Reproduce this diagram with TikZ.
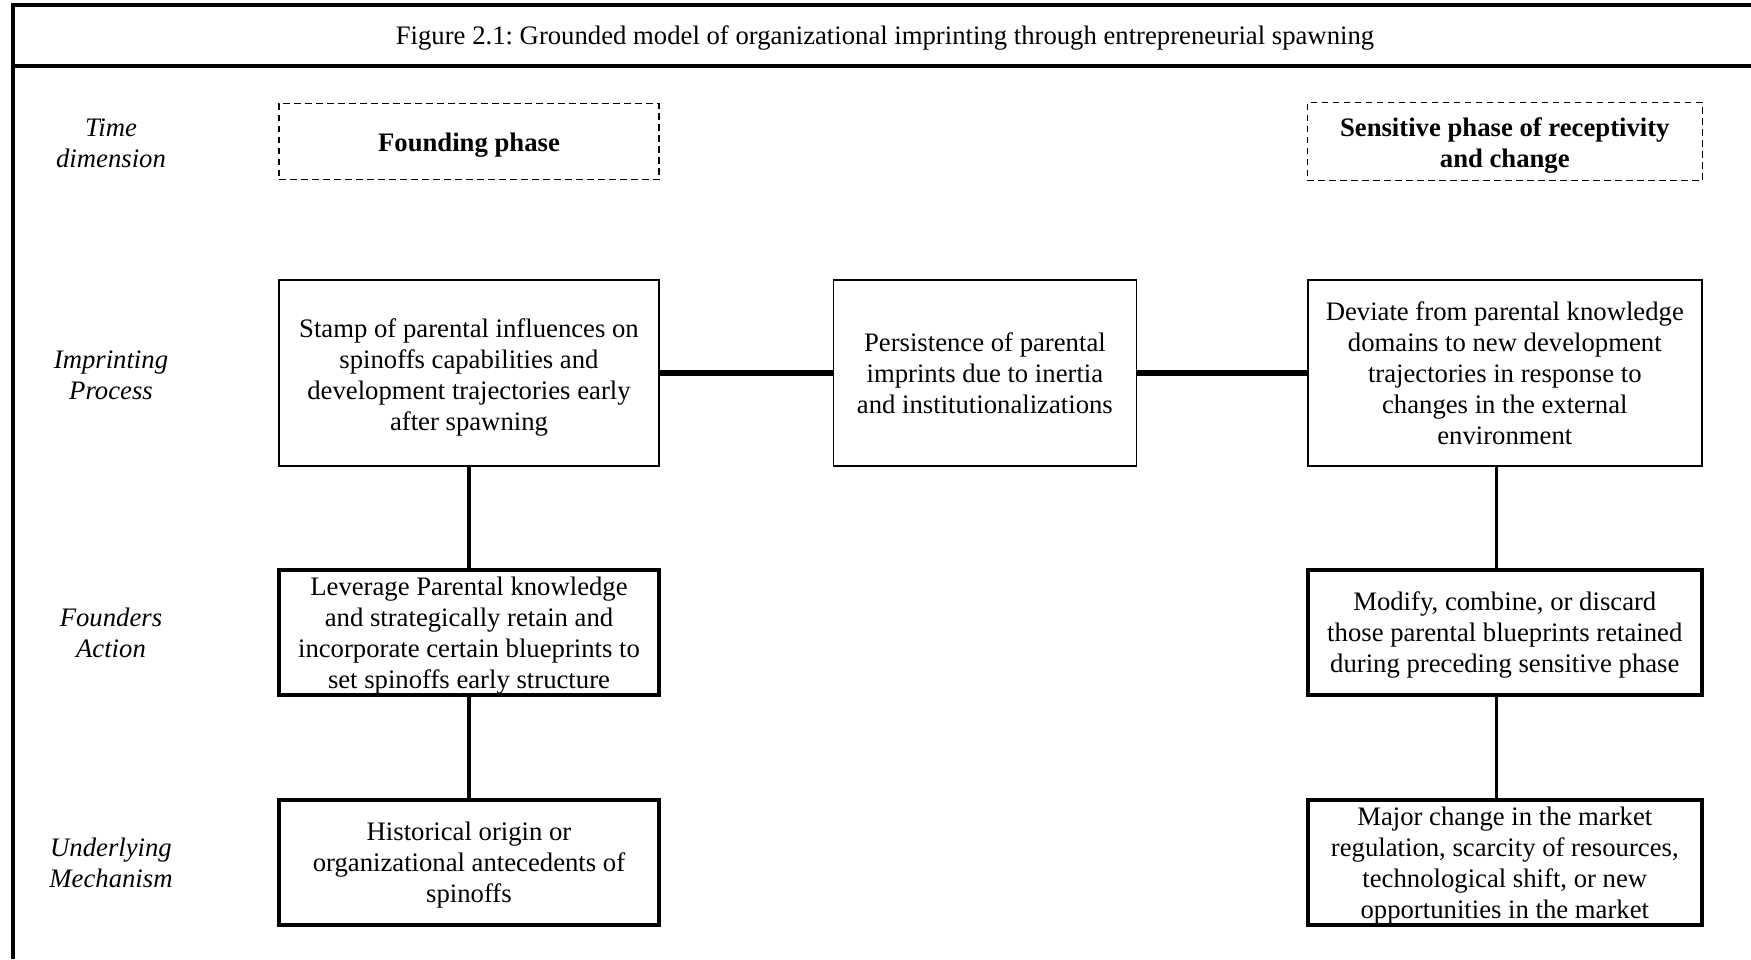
\documentclass[tikz,border=0pt]{standalone}
\usepackage{fontspec}
\setmainfont{Liberation Serif}
\usepackage{tikz}
\usetikzlibrary{positioning}
\frenchspacing

\begin{document}
\begin{tikzpicture}[
    x=0.5pt, y=-0.5pt,
    every node/.style={font=\fontsize{13.35}{15.5}\selectfont, align=center, inner sep=0pt},
    phasebox/.style={draw, dashed, dash pattern=on 3.3pt off 2.2pt, line width=0.75pt, minimum height=38pt, font=\fontsize{13.35}{15.5}\selectfont\bfseries},
    procbox/.style={draw, line width=0.7pt, minimum height=93pt},
    actbox/.style={draw, line width=2pt, minimum height=62.6pt},
    rowlabel/.style={font=\fontsize{13.35}{15.5}\selectfont\itshape},
    link/.style={line width=1.8pt},
    hlink/.style={line width=3.2pt}
]
\useasboundingbox (0,0) rectangle (1751,959);
\draw[line width=1.7pt] (13,959) -- (13,5) -- (1751,5);
\draw[line width=1.7pt] (13,66) -- (1751,66);

\node (title) at (885,38) {Figure 2.1: Grounded model of organizational imprinting through entrepreneurial spawning};

\node[rowlabel] (lbltime) at (111,143) {Time\\dimension};
\node[rowlabel] (lblproc) at (111,375) {Imprinting\\Process};
\node[rowlabel] (lblact) at (111,633) {Founders\\Action};
\node[rowlabel] (lblmech) at (111,863) {Underlying\\Mechanism};

\node[procbox, minimum width=190pt] (stamp) at (469,373) {\rule{0pt}{14.2pt}Stamp of parental influences on\\spinoffs capabilities and\\development trajectories early\\after spawning};
\node[procbox, minimum width=151.5pt] (persist) [right=86.5pt of stamp] {Persistence of parental\\imprints due to inertia\\and institutionalizations};
\node[procbox, minimum width=197pt] (deviate) [right=85pt of persist] {Deviate from parental knowledge\\domains to new development\\trajectories in response to\\changes in the external\\environment};

\node[phasebox, minimum width=190pt] (founding) [above=49.5pt of stamp] {\rule{0pt}{13pt}Founding phase};
\node[phasebox, minimum width=197.5pt, minimum height=39pt] (sensitive) [above=49pt of deviate] {\rule{0pt}{13pt}Sensitive phase of receptivity\\and change};

\node[actbox, minimum width=190pt] (leverage) [below=50.5pt of stamp] {\rule{0pt}{12.2pt}Leverage Parental knowledge\\and strategically retain and\\incorporate certain blueprints to\\set spinoffs early structure};
\node[actbox, minimum width=190pt] (origin) [below=50.5pt of leverage] {\rule{0pt}{12.2pt}Historical origin or\\organizational antecedents of\\spinoffs};
\node[actbox, minimum width=197pt] (modify) [below=50.5pt of deviate] {\rule{0pt}{12.2pt}Modify, combine, or discard\\those parental blueprints retained\\during preceding sensitive phase};
\node[actbox, minimum width=197pt] (major) [below=50.5pt of modify] {\rule{0pt}{12.2pt}Major change in the market\\regulation, scarcity of resources,\\technological shift, or new\\opportunities in the market};

\draw[hlink] (stamp) -- (persist);
\draw[hlink] (persist) -- (deviate);
\draw[link] (stamp) -- (leverage);
\draw[link] (leverage) -- (origin);
\draw[link] ([xshift=-4.2pt]deviate.south) -- ([xshift=-4.2pt]modify.north);
\draw[link] ([xshift=-4.2pt]modify.south) -- ([xshift=-4.2pt]major.north);
\end{tikzpicture}
\end{document}
